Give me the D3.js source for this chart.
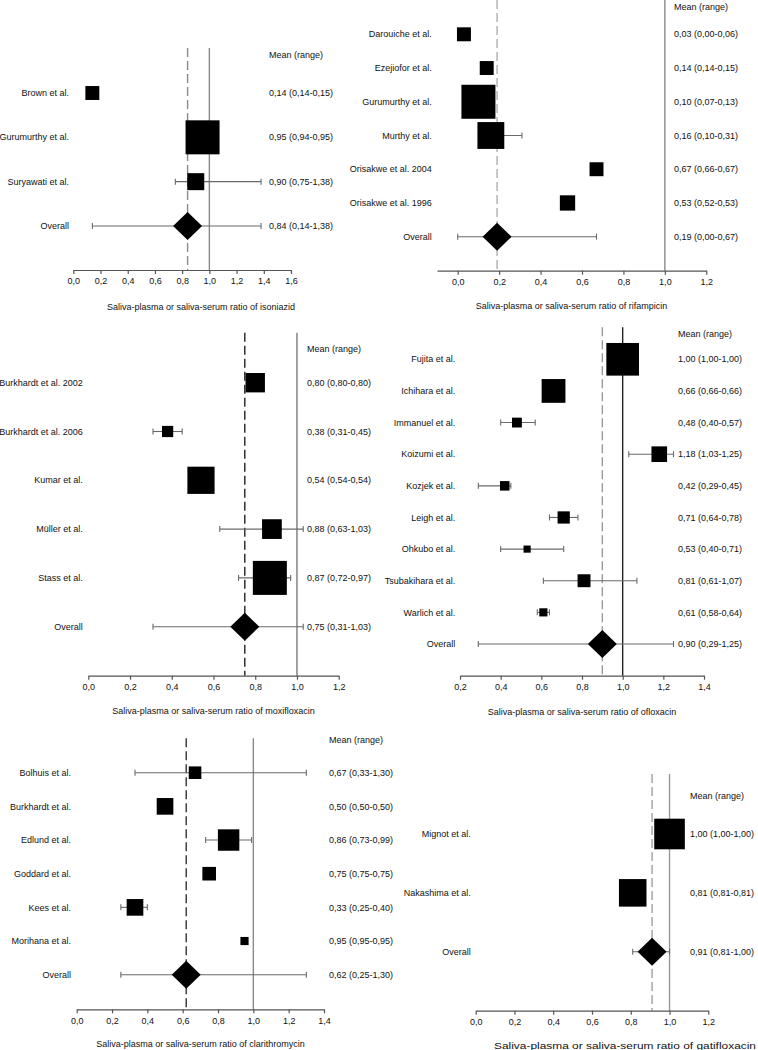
<!DOCTYPE html>
<html>
<head>
<meta charset="utf-8">
<script src="https://cdn.jsdelivr.net/npm/d3@7"></script>
<style>
  html, body { margin: 0; padding: 0; background: #fff; }
  svg { display: block; font-family: "Liberation Sans", Arial, sans-serif; }
</style>
</head>
<body>
<svg id="chart" width="758" height="1050"></svg>
<script>
// ---------------- DATA ----------------
const isoniazidStudies = ["Brown et al.", "Gurumurthy et al.", "Suryawati et al."];
const isoniazidMean    = [0.14, 0.95, 0.90];
const isoniazidLow     = [0.14, 0.94, 0.75];
const isoniazidHigh    = [0.15, 0.95, 1.38];
const isoniazidWeight  = [0.41, 1.00, 0.50];
const isoniazidOverall = [0.84, 0.14, 1.38];
const isoniazidTicks   = [0, 0.2, 0.4, 0.6, 0.8, 1.0, 1.2, 1.4, 1.6];

const rifampicinStudies = ["Darouiche et al.", "Ezejiofor et al.", "Gurumurthy et al.", "Murthy et al.", "Orisakwe et al. 2004", "Orisakwe et al. 1996"];
const rifampicinMean    = [0.03, 0.14, 0.10, 0.16, 0.67, 0.53];
const rifampicinLow     = [0.00, 0.14, 0.07, 0.10, 0.66, 0.52];
const rifampicinHigh    = [0.06, 0.15, 0.13, 0.31, 0.67, 0.53];
const rifampicinWeight  = [0.41, 0.41, 1.00, 0.79, 0.41, 0.45];
const rifampicinOverall = [0.19, 0.00, 0.67];
const rifampicinTicks   = [0, 0.2, 0.4, 0.6, 0.8, 1.0, 1.2];

const moxifloxacinStudies = ["Burkhardt et al. 2002", "Burkhardt et al. 2006", "Kumar et al.", "Müller et al.", "Stass et al."];
const moxifloxacinMean    = [0.80, 0.38, 0.54, 0.88, 0.87];
const moxifloxacinLow     = [0.80, 0.31, 0.54, 0.63, 0.72];
const moxifloxacinHigh    = [0.80, 0.45, 0.54, 1.03, 0.97];
const moxifloxacinWeight  = [0.57, 0.33, 0.80, 0.58, 1.00];
const moxifloxacinOverall = [0.75, 0.31, 1.03];
const moxifloxacinTicks   = [0, 0.2, 0.4, 0.6, 0.8, 1.0, 1.2];

const ofloxacinStudies = ["Fujita et al.", "Ichihara et al.", "Immanuel et al.", "Koizumi et al.", "Kozjek et al.", "Leigh et al.", "Ohkubo et al.", "Tsubakihara et al.", "Warlich et al."];
const ofloxacinMean    = [1.00, 0.66, 0.48, 1.18, 0.42, 0.71, 0.53, 0.81, 0.61];
const ofloxacinLow     = [1.00, 0.66, 0.40, 1.03, 0.29, 0.64, 0.40, 0.61, 0.58];
const ofloxacinHigh    = [1.00, 0.66, 0.57, 1.25, 0.45, 0.78, 0.71, 1.07, 0.64];
const ofloxacinWeight  = [0.96, 0.70, 0.29, 0.46, 0.28, 0.36, 0.21, 0.38, 0.24];
const ofloxacinOverall = [0.90, 0.29, 1.25];
const ofloxacinTicks   = [0.2, 0.4, 0.6, 0.8, 1.0, 1.2, 1.4];

const clarithromycinStudies = ["Bolhuis et al.", "Burkhardt et al.", "Edlund et al.", "Goddard et al.", "Kees et al.", "Morihana et al."];
const clarithromycinMean    = [0.67, 0.50, 0.86, 0.75, 0.33, 0.95];
const clarithromycinLow     = [0.33, 0.50, 0.73, 0.75, 0.25, 0.95];
const clarithromycinHigh    = [1.30, 0.50, 0.99, 0.75, 0.40, 0.95];
const clarithromycinWeight  = [0.37, 0.49, 0.63, 0.40, 0.49, 0.24];
const clarithromycinOverall = [0.62, 0.25, 1.30];
const clarithromycinTicks   = [0, 0.2, 0.4, 0.6, 0.8, 1.0, 1.2, 1.4];

const gatifloxacinStudies = ["Mignot et al.", "Nakashima et al."];
const gatifloxacinMean    = [1.00, 0.81];
const gatifloxacinLow     = [1.00, 0.81];
const gatifloxacinHigh    = [1.00, 0.81];
const gatifloxacinWeight  = [0.90, 0.81];
const gatifloxacinOverall = [0.91, 0.81, 1.00];
const gatifloxacinTicks   = [0, 0.2, 0.4, 0.6, 0.8, 1.0, 1.2];

const headerText = "Mean (range)";
const overallLabel = "Overall";
const titlePrefix = "Saliva-plasma or saliva-serum ratio of ";

// ---------------- LAYOUT ----------------
const panels = [
  { drug: "isoniazid", studies: isoniazidStudies, mean: isoniazidMean, low: isoniazidLow, high: isoniazidHigh, weight: isoniazidWeight, overall: isoniazidOverall, ticks: isoniazidTicks,
    domain: [0, 1.6], range: [73.3, 291], axisY: 270, lineTop: 48, headerY: 55, firstY: 93, lastY: 226,
    labelX: 69, valueX: 269, titleX: 201, titleY: 307, solid: "#8a8a8a", dashed: "#8a8a8a" },
  { drug: "rifampicin", studies: rifampicinStudies, mean: rifampicinMean, low: rifampicinLow, high: rifampicinHigh, weight: rifampicinWeight, overall: rifampicinOverall, ticks: rifampicinTicks,
    domain: [-0.1, 1.2], range: [437.0, 706.3], axisY: 270.7, lineTop: 0, headerY: 6.7, firstY: 34.3, lastY: 236.7,
    labelX: 431.7, valueX: 674, titleX: 571.5, titleY: 305.7, solid: "#8a8a8a", dashed: "#b0b0b0" },
  { drug: "moxifloxacin", studies: moxifloxacinStudies, mean: moxifloxacinMean, low: moxifloxacinLow, high: moxifloxacinHigh, weight: moxifloxacinWeight, overall: moxifloxacinOverall, ticks: moxifloxacinTicks,
    domain: [0, 1.2], range: [88.3, 338.7], axisY: 675.7, lineTop: 332.7, headerY: 349.3, firstY: 382.7, lastY: 626.7,
    labelX: 82.7, valueX: 307, titleX: 213.5, titleY: 710.7, solid: "#7a7a7a", dashed: "#222" },
  { drug: "ofloxacin", studies: ofloxacinStudies, mean: ofloxacinMean, low: ofloxacinLow, high: ofloxacinHigh, weight: ofloxacinWeight, overall: ofloxacinOverall, ticks: ofloxacinTicks,
    domain: [0.2, 1.4], range: [460, 704], axisY: 675.7, lineTop: 327.3, headerY: 334.3, firstY: 359.3, lastY: 644,
    labelX: 455.3, valueX: 678, titleX: 582, titleY: 711.7, solid: "#222", dashed: "#999" },
  { drug: "clarithromycin", studies: clarithromycinStudies, mean: clarithromycinMean, low: clarithromycinLow, high: clarithromycinHigh, weight: clarithromycinWeight, overall: clarithromycinOverall, ticks: clarithromycinTicks,
    domain: [0, 1.4], range: [76.7, 324], axisY: 1009.3, lineTop: 738.3, headerY: 740, firstY: 772.7, lastY: 974.7,
    labelX: 71, valueX: 329, titleX: 200.5, titleY: 1044, solid: "#8a8a8a", dashed: "#333" },
  { drug: "gatifloxacin", studies: gatifloxacinStudies, mean: gatifloxacinMean, low: gatifloxacinLow, high: gatifloxacinHigh, weight: gatifloxacinWeight, overall: gatifloxacinOverall, ticks: gatifloxacinTicks,
    domain: [0, 1.2], range: [475.7, 708.3], axisY: 1010.7, lineTop: 774, headerY: 796, firstY: 834, lastY: 951.7,
    labelX: 470.7, valueX: 690, titleX: 625, titleY: 1045.7, titleLen: 262, solid: "#999", dashed: "#a0a0a0" }
];

const fmt2 = v => d3.format(".2f")(v).replace(".", ",");
const fmt1 = v => d3.format(".1f")(v).replace(".", ",");
const sizeScale = d3.scaleLinear().domain([0, 1]).range([0, 34]);
const whiskerColor = "#6a6a6a";
const capH = 6;
const fontSize = 9;

const svg = d3.select("#chart");

panels.forEach(p => {
  const g = svg.append("g").attr("class", "panel-" + p.drug);
  const x = d3.scaleLinear().domain(p.domain).range(p.range);
  const n = p.studies.length;
  const y = d3.scaleLinear().domain([0, n]).range([p.firstY, p.lastY]);

  // reference lines
  g.append("line")
    .attr("x1", x(1)).attr("x2", x(1))
    .attr("y1", p.lineTop).attr("y2", p.axisY)
    .attr("stroke", p.solid).attr("stroke-width", 1.4);
  g.append("line")
    .attr("x1", x(p.overall[0])).attr("x2", x(p.overall[0]))
    .attr("y1", p.lineTop).attr("y2", p.axisY)
    .attr("stroke", p.dashed).attr("stroke-width", 1.4)
    .attr("stroke-dasharray", "9,4");

  // axis
  const axis = d3.axisBottom(x)
    .tickValues(p.ticks).tickFormat(fmt1)
    .tickSize(4).tickSizeOuter(0).tickPadding(4);
  const ag = g.append("g").attr("transform", `translate(0,${p.axisY})`).call(axis);
  ag.select(".domain").attr("stroke", "#555").attr("stroke-width", 1.2);
  ag.selectAll(".tick line").attr("stroke", "#555").attr("stroke-width", 1.2);
  ag.selectAll(".tick text").attr("font-size", fontSize).attr("fill", "#111")
    .attr("font-family", "Liberation Sans, Arial, sans-serif");

  // rows data
  const rows = p.studies.map((s, i) => ({ label: s, mean: p.mean[i], low: p.low[i], high: p.high[i], w: p.weight[i], i }));
  const ov = { label: overallLabel, mean: p.overall[0], low: p.overall[1], high: p.overall[2], i: n };

  // whiskers
  const all = rows.concat([ov]);
  const wg = g.append("g").attr("stroke", whiskerColor).attr("stroke-width", 1.1);
  all.filter(d => d.high > d.low).forEach(d => {
    wg.append("line").attr("x1", x(d.low)).attr("x2", x(d.high)).attr("y1", y(d.i)).attr("y2", y(d.i));
    wg.append("line").attr("x1", x(d.low)).attr("x2", x(d.low)).attr("y1", y(d.i) - capH / 2).attr("y2", y(d.i) + capH / 2);
    wg.append("line").attr("x1", x(d.high)).attr("x2", x(d.high)).attr("y1", y(d.i) - capH / 2).attr("y2", y(d.i) + capH / 2);
  });

  // squares
  g.selectAll("rect.study").data(rows).join("rect")
    .attr("class", "study")
    .attr("x", d => x(d.mean) - sizeScale(d.w) / 2)
    .attr("y", d => y(d.i) - sizeScale(d.w) / 2)
    .attr("width", d => sizeScale(d.w))
    .attr("height", d => sizeScale(d.w))
    .attr("fill", "#000");

  // diamond
  const dw = 14.5, dh = 14;
  const cx = x(ov.mean), cy = y(ov.i);
  g.append("path")
    .attr("d", `M${cx - dw},${cy} L${cx},${cy - dh} L${cx + dw},${cy} L${cx},${cy + dh} Z`)
    .attr("fill", "#000");

  // labels
  g.selectAll("text.lab").data(all).join("text")
    .attr("class", "lab")
    .attr("x", p.labelX).attr("y", d => y(d.i))
    .attr("dy", "0.35em").attr("text-anchor", "end")
    .attr("font-size", fontSize).attr("fill", "#111")
    .text(d => d.label);

  // values
  g.selectAll("text.val").data(all).join("text")
    .attr("class", "val")
    .attr("x", p.valueX).attr("y", d => y(d.i))
    .attr("dy", "0.35em").attr("text-anchor", "start")
    .attr("font-size", fontSize).attr("fill", "#111")
    .text(d => `${fmt2(d.mean)} (${fmt2(d.low)}-${fmt2(d.high)})`);

  g.append("text")
    .attr("x", p.valueX).attr("y", p.headerY).attr("dy", "0.35em")
    .attr("font-size", fontSize).attr("fill", "#111")
    .text(headerText);

  const t = g.append("text")
    .attr("x", p.titleX).attr("y", p.titleY).attr("dy", "0.35em")
    .attr("text-anchor", "middle")
    .attr("font-size", fontSize).attr("fill", "#111")
    .text(titlePrefix + p.drug);
  if (p.titleLen) t.attr("textLength", p.titleLen).attr("lengthAdjust", "spacingAndGlyphs");
});
</script>
</body>
</html>
